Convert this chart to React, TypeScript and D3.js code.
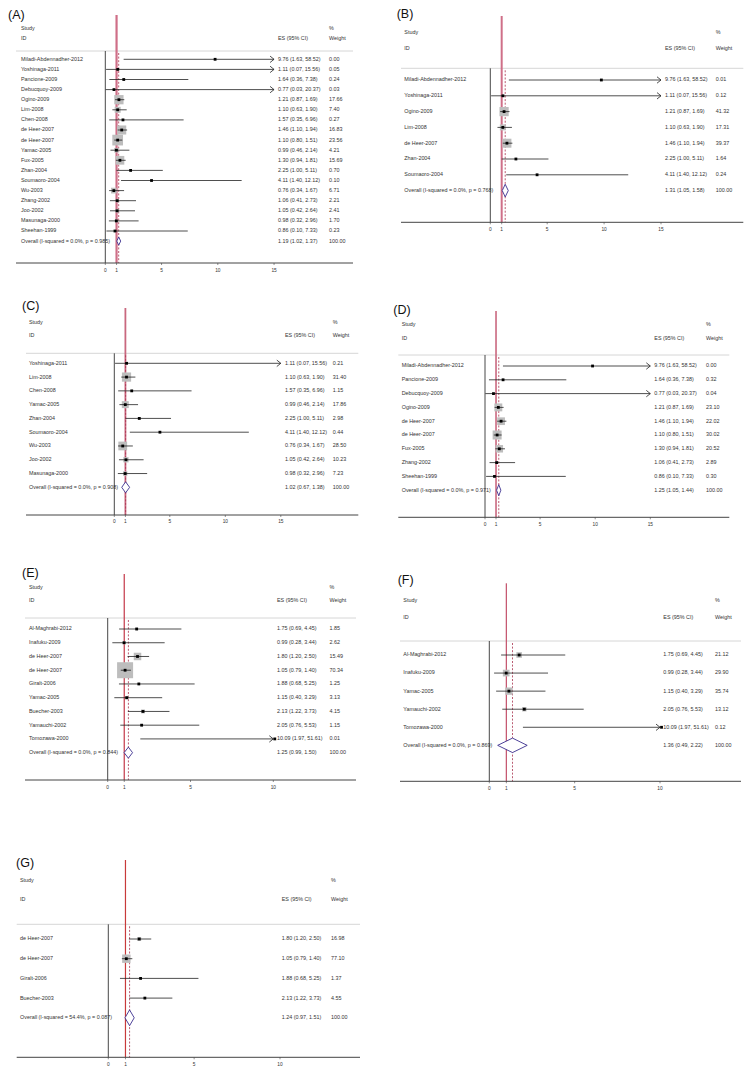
import React from 'react';
import * as d3 from 'd3';

// [study, ES, lower, upper, weight]
type Row = [string, number, number, number, number];

const rowsA: Row[] = [
  ['Miladi-Abdennadher-2012', 9.76, 1.63, 58.52, 0.0],
  ['Yoshinaga-2011', 1.11, 0.07, 15.56, 0.05],
  ['Pancione-2009', 1.64, 0.36, 7.38, 0.24],
  ['Debucquoy-2009', 0.77, 0.03, 20.37, 0.03],
  ['Ogino-2009', 1.21, 0.87, 1.69, 17.66],
  ['Lim-2008', 1.1, 0.63, 1.9, 7.4],
  ['Chen-2008', 1.57, 0.35, 6.96, 0.27],
  ['de Heer-2007', 1.46, 1.1, 1.94, 16.83],
  ['de Heer-2007', 1.1, 0.8, 1.51, 23.56],
  ['Yamac-2005', 0.99, 0.46, 2.14, 4.21],
  ['Fux-2005', 1.3, 0.94, 1.81, 15.69],
  ['Zhan-2004', 2.25, 1.0, 5.11, 0.7],
  ['Soumaoro-2004', 4.11, 1.4, 12.12, 0.1],
  ['Wu-2003', 0.76, 0.34, 1.67, 6.71],
  ['Zhang-2002', 1.06, 0.41, 2.73, 2.21],
  ['Joo-2002', 1.05, 0.42, 2.64, 2.41],
  ['Masunaga-2000', 0.98, 0.32, 2.96, 1.7],
  ['Sheehan-1999', 0.86, 0.1, 7.33, 0.23],
];
const overallA: Row = ['Overall  (I-squared = 0.0%, p = 0.985)', 1.19, 1.02, 1.37, 100];

const rowsB: Row[] = [
  ['Miladi-Abdennadher-2012', 9.76, 1.63, 58.52, 0.01],
  ['Yoshinaga-2011', 1.11, 0.07, 15.56, 0.12],
  ['Ogino-2009', 1.21, 0.87, 1.69, 41.32],
  ['Lim-2008', 1.1, 0.63, 1.9, 17.31],
  ['de Heer-2007', 1.46, 1.1, 1.94, 39.37],
  ['Zhan-2004', 2.25, 1.0, 5.11, 1.64],
  ['Soumaoro-2004', 4.11, 1.4, 12.12, 0.24],
];
const overallB: Row = ['Overall  (I-squared = 0.0%, p = 0.768)', 1.31, 1.05, 1.58, 100];

const rowsC: Row[] = [
  ['Yoshinaga-2011', 1.11, 0.07, 15.56, 0.21],
  ['Lim-2008', 1.1, 0.63, 1.9, 31.4],
  ['Chen-2008', 1.57, 0.35, 6.96, 1.15],
  ['Yamac-2005', 0.99, 0.46, 2.14, 17.86],
  ['Zhan-2004', 2.25, 1.0, 5.11, 2.98],
  ['Soumaoro-2004', 4.11, 1.4, 12.12, 0.44],
  ['Wu-2003', 0.76, 0.34, 1.67, 28.5],
  ['Joo-2002', 1.05, 0.42, 2.64, 10.23],
  ['Masunaga-2000', 0.98, 0.32, 2.96, 7.23],
];
const overallC: Row = ['Overall  (I-squared = 0.0%, p = 0.908)', 1.02, 0.67, 1.38, 100];

const rowsD: Row[] = [
  ['Miladi-Abdennadher-2012', 9.76, 1.63, 58.52, 0.0],
  ['Pancione-2009', 1.64, 0.36, 7.38, 0.32],
  ['Debucquoy-2009', 0.77, 0.03, 20.37, 0.04],
  ['Ogino-2009', 1.21, 0.87, 1.69, 23.1],
  ['de Heer-2007', 1.46, 1.1, 1.94, 22.02],
  ['de Heer-2007', 1.1, 0.8, 1.51, 30.02],
  ['Fux-2005', 1.3, 0.94, 1.81, 20.52],
  ['Zhang-2002', 1.06, 0.41, 2.73, 2.89],
  ['Sheehan-1999', 0.86, 0.1, 7.33, 0.3],
];
const overallD: Row = ['Overall  (I-squared = 0.0%, p = 0.971)', 1.25, 1.05, 1.44, 100];

const rowsE: Row[] = [
  ['Al-Maghrabi-2012', 1.75, 0.69, 4.45, 1.85],
  ['Inafuku-2009', 0.99, 0.28, 3.44, 2.62],
  ['de Heer-2007', 1.8, 1.2, 2.5, 15.49],
  ['de Heer-2007', 1.05, 0.79, 1.4, 70.34],
  ['Giralt-2006', 1.88, 0.68, 5.25, 1.25],
  ['Yamac-2005', 1.15, 0.4, 3.29, 3.13],
  ['Buecher-2003', 2.13, 1.22, 3.73, 4.15],
  ['Yamauchi-2002', 2.05, 0.76, 5.53, 1.15],
  ['Tomozawa-2000', 10.09, 1.97, 51.61, 0.01],
];
const overallE: Row = ['Overall  (I-squared = 0.0%, p = 0.844)', 1.25, 0.99, 1.5, 100];

const rowsF: Row[] = [
  ['Al-Maghrabi-2012', 1.75, 0.69, 4.45, 21.12],
  ['Inafuku-2009', 0.99, 0.28, 3.44, 29.9],
  ['Yamac-2005', 1.15, 0.4, 3.29, 35.74],
  ['Yamauchi-2002', 2.05, 0.76, 5.53, 13.12],
  ['Tomozawa-2000', 10.09, 1.97, 51.61, 0.12],
];
const overallF: Row = ['Overall  (I-squared = 0.0%, p = 0.869)', 1.36, 0.49, 2.22, 100];

const rowsG: Row[] = [
  ['de Heer-2007', 1.8, 1.2, 2.5, 16.98],
  ['de Heer-2007', 1.05, 0.79, 1.4, 77.1],
  ['Giralt-2006', 1.88, 0.68, 5.25, 1.37],
  ['Buecher-2003', 2.13, 1.22, 3.73, 4.55],
];
const overallG: Row = ['Overall  (I-squared = 54.4%, p = 0.087)', 1.24, 0.97, 1.51, 100];

const ticks15 = [0, 1, 5, 10, 15];
const ticks10 = [0, 1, 5, 10];

interface Layout {
  label: string;
  lx: number; ly: number;
  sx: number; studyY: number; idY: number; hy: number;
  x1: number; x2: number;
  r0: number; step: number;
  x0: number; unit: number; xmax: number;
  axisY: number; tickY: number;
  esX: number; wtX: number;
  redTop: number; redW: number; red: string;
  boxMax: number;
}

const FONT = '"Liberation Sans", Arial, sans-serif';
const FS = 5.4;

const fmt = (v: number) => v.toFixed(2);

function Panel({ lay, rows, overall, ticks }: { lay: Layout; rows: Row[]; overall: Row; ticks: number[] }) {
  const x = d3.scaleLinear().domain([0, lay.xmax]).range([lay.x0, lay.x0 + lay.xmax * lay.unit]);
  const y = (i: number) => lay.r0 + i * lay.step;
  const maxW = d3.max(rows, r => r[4]) || 1;
  const oy = y(rows.length);
  const dh = lay.step * 0.4;

  return (
    <g fontFamily={FONT}>
      <text x={lay.lx} y={lay.ly} fontSize={12.5} dominantBaseline="middle" fill="#111">{lay.label}</text>
      <text x={lay.sx} y={lay.studyY} fontSize={FS} dominantBaseline="middle" fill="#333">Study</text>
      <text x={lay.sx} y={lay.idY} fontSize={FS} dominantBaseline="middle" fill="#333">ID</text>
      <text x={lay.esX} y={lay.idY} fontSize={FS} dominantBaseline="middle" fill="#333">ES (95% CI)</text>
      <text x={lay.wtX} y={lay.studyY} fontSize={FS} dominantBaseline="middle" fill="#333">%</text>
      <text x={lay.wtX} y={lay.idY} fontSize={FS} dominantBaseline="middle" fill="#333">Weight</text>
      <line x1={lay.x1} x2={lay.x2} y1={lay.hy} y2={lay.hy} stroke="#d6d6d6" strokeWidth={1} />

      {/* reference lines */}
      <line x1={x(0)} x2={x(0)} y1={lay.hy} y2={lay.axisY} stroke="#333" strokeWidth={0.9} />
      <line x1={x(1)} x2={x(1)} y1={lay.redTop} y2={lay.axisY} stroke={lay.red} strokeWidth={lay.redW} />
      <line x1={x(overall[1])} x2={x(overall[1])} y1={lay.hy + 2} y2={lay.axisY} stroke="#a8324e"
        strokeWidth={0.8} strokeDasharray="2,1.6" />

      {/* axis */}
      <line x1={lay.x1} x2={lay.x2} y1={lay.axisY} y2={lay.axisY} stroke="#444" strokeWidth={1} />
      {ticks.map(t => (
        <g key={t}>
          <line x1={x(t)} x2={x(t)} y1={lay.axisY} y2={lay.axisY + 2} stroke="#444" strokeWidth={0.6} />
          <text x={x(t)} y={lay.tickY} fontSize={4.8} textAnchor="middle" dominantBaseline="middle" fill="#333">{t}</text>
        </g>
      ))}

      {rows.map((r, i) => {
        const [name, es, lo, hi, w] = r;
        const yy = y(i);
        const over = hi > lay.xmax;
        const xr = over ? x(lay.xmax) : x(hi);
        const s = lay.boxMax * Math.sqrt(w / maxW);
        return (
          <g key={i}>
            <text x={lay.sx} y={yy} fontSize={FS} dominantBaseline="middle" fill="#333">{name}</text>
            {s > 0.5 && <rect x={x(es) - s / 2} y={yy - s / 2} width={s} height={s} fill="#bdbdbd" />}
            <line x1={x(lo)} x2={xr} y1={yy} y2={yy} stroke="#222" strokeWidth={0.8} />
            {over && (
              <path d={`M${xr - 4},${yy - 3.2}L${xr},${yy}L${xr - 4},${yy + 3.2}`} fill="none" stroke="#222" strokeWidth={0.8} />
            )}
            <rect x={x(es) - 1.4} y={yy - 1.4} width={2.8} height={2.8} fill="#000" />
            <text x={lay.esX} y={yy} fontSize={FS} dominantBaseline="middle" fill="#333">
              {`${fmt(es)} (${fmt(lo)}, ${fmt(hi)})`}
            </text>
            <text x={lay.wtX} y={yy} fontSize={FS} dominantBaseline="middle" fill="#333">{fmt(w)}</text>
          </g>
        );
      })}

      <text x={lay.sx} y={oy} fontSize={FS} dominantBaseline="middle" fill="#333">{overall[0]}</text>
      <path
        d={`M${x(overall[2])},${oy}L${x(overall[1])},${oy - dh}L${x(overall[3])},${oy}L${x(overall[1])},${oy + dh}Z`}
        fill="#fff" stroke="#3b2f8f" strokeWidth={0.9}
      />
      <text x={lay.esX} y={oy} fontSize={FS} dominantBaseline="middle" fill="#333">
        {`${fmt(overall[1])} (${fmt(overall[2])}, ${fmt(overall[3])})`}
      </text>
      <text x={lay.wtX} y={oy} fontSize={FS} dominantBaseline="middle" fill="#333">{fmt(overall[4])}</text>
    </g>
  );
}

const layA: Layout = {
  label: '(A)', lx: 8, ly: 16, sx: 21, studyY: 29, idY: 39, hy: 51, x1: 16, x2: 353,
  r0: 59.3, step: 10.1, x0: 105.3, unit: 11.25, xmax: 15, axisY: 263, tickY: 271,
  esX: 278, wtX: 329, redTop: 15, redW: 2.2, red: '#cf6f88', boxMax: 10.7,
};
const layB: Layout = {
  label: '(B)', lx: 396.7, ly: 15, sx: 404.3, studyY: 32.3, idY: 48.3, hy: 68.3, x1: 401, x2: 743.3,
  r0: 80, step: 15.8, x0: 490.3, unit: 11.38, xmax: 15, axisY: 222.3, tickY: 230,
  esX: 665, wtX: 715.7, redTop: 16, redW: 2, red: '#cf6f88', boxMax: 9.2,
};
const layC: Layout = {
  label: '(C)', lx: 22, ly: 307, sx: 29, studyY: 322.3, idY: 336, hy: 353.3, x1: 26, x2: 358.3,
  r0: 363.3, step: 13.78, x0: 114.3, unit: 11.1, xmax: 15, axisY: 515, tickY: 521.7,
  esX: 285, wtX: 332.7, redTop: 308, redW: 1.8, red: '#c9687f', boxMax: 9.2,
};
const layD: Layout = {
  label: '(D)', lx: 393.3, ly: 311, sx: 401.7, studyY: 325, idY: 338.7, hy: 355, x1: 398.3, x2: 729.3,
  r0: 366, step: 13.8, x0: 485, unit: 11.02, xmax: 15, axisY: 517.3, tickY: 525,
  esX: 654.3, wtX: 706, redTop: 311, redW: 1.6, red: '#c9687f', boxMax: 9,
};
const layE: Layout = {
  label: '(E)', lx: 22, ly: 574, sx: 29, studyY: 587.3, idY: 601, hy: 618, x1: 25, x2: 356,
  r0: 629, step: 13.74, x0: 107.7, unit: 16.56, xmax: 10, axisY: 780, tickY: 787.7,
  esX: 277, wtX: 329.5, redTop: 574, redW: 1.3, red: '#c84656', boxMax: 16,
};
const layF: Layout = {
  label: '(F)', lx: 397.7, ly: 580.7, sx: 403.3, studyY: 601, idY: 617.3, hy: 641, x1: 400, x2: 741,
  r0: 655, step: 18.07, x0: 489.3, unit: 17.07, xmax: 10, axisY: 781.3, tickY: 789,
  esX: 663.3, wtX: 715, redTop: 583.3, redW: 1.3, red: '#c65a72', boxMax: 7.3,
};
const layG: Layout = {
  label: '(G)', lx: 16, ly: 863.3, sx: 20, studyY: 880.7, idY: 900, hy: 924.3, x1: 16.7, x2: 360,
  r0: 939, step: 19.7, x0: 108.3, unit: 17.17, xmax: 10, axisY: 1057.3, tickY: 1064.3,
  esX: 281.7, wtX: 331, redTop: 860, redW: 1.2, red: '#c83a3a', boxMax: 8.4,
};

export default function App() {
  return (
    <svg width={755} height={1080} style={{ position: 'absolute', left: 0, top: 0, background: '#fff' }}>
      <rect width={755} height={1080} fill="#fff" />
      <Panel lay={layA} rows={rowsA} overall={overallA} ticks={ticks15} />
      <Panel lay={layB} rows={rowsB} overall={overallB} ticks={ticks15} />
      <Panel lay={layC} rows={rowsC} overall={overallC} ticks={ticks15} />
      <Panel lay={layD} rows={rowsD} overall={overallD} ticks={ticks15} />
      <Panel lay={layE} rows={rowsE} overall={overallE} ticks={ticks10} />
      <Panel lay={layF} rows={rowsF} overall={overallF} ticks={ticks10} />
      <Panel lay={layG} rows={rowsG} overall={overallG} ticks={ticks10} />
    </svg>
  );
}
